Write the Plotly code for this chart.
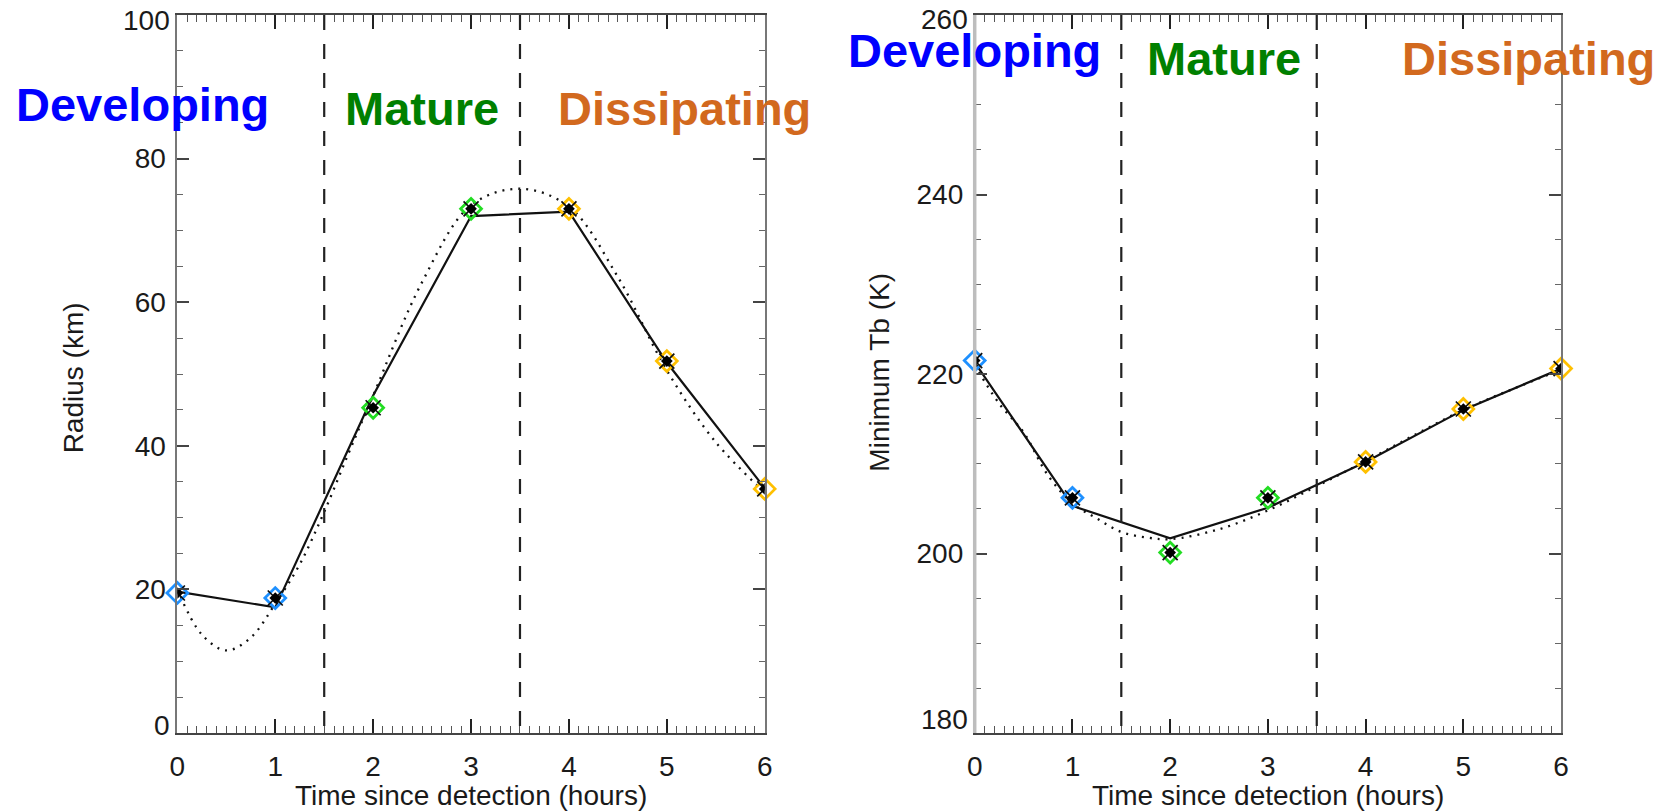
import plotly.graph_objects as go

# ---------------- data ----------------
hours = [0, 1, 2, 3, 4, 5, 6]

radius_obs = [19.5, 18.8, 45.3, 73.0, 73.0, 51.8, 34.0]
radius_line = [19.7, 17.5, 47.0, 72.0, 72.6, 51.6, 34.1]
fit_hours = [0, 0.25, 0.5, 0.75, 1, 1.25, 1.5, 1.75, 2, 2.5, 3, 3.5, 4, 4.5, 5, 5.5, 6]
radius_fit = [20.0, 13.7, 11.5, 13.3, 18.0, 23.5, 30.8, 39.0, 47.0, 62.8, 73.5, 75.8,
              73.3, 63.5, 50.5, 40.5, 33.5]

tb_obs = [221.5, 206.2, 200.1, 206.2, 210.2, 216.1, 220.6]
tb_line = [221.3, 205.3, 201.7, 205.1, 210.2, 216.0, 220.6]
tb_fit = [221.0, 216.7, 213.5, 208.7, 205.6, 203.9, 202.4, 201.8, 201.6, 202.7, 204.8,
          207.5, 210.3, 213.2, 216.0, 218.3, 220.5]

phase_of_point = ["Developing", "Developing", "Mature", "Mature",
                  "Dissipating", "Dissipating", "Dissipating"]
phase_bounds = [1.5, 3.5]
phase_names = ["Developing", "Mature", "Dissipating"]

x_ticks = [0, 1, 2, 3, 4, 5, 6]
radius_ticks = [0, 20, 40, 60, 80, 100]
tb_ticks = [180, 200, 220, 240, 260]

# ---------------- styles ----------------
W, H = 1680, 811
L_X0, L_X1 = 171, 764
R_X0, R_X1 = 976, 1568
TOP, BOT = 15, 733

marker_colors = {"Developing": "#1E90FF", "Mature": "#22DD22", "Dissipating": "#FFC000"}
text_colors = {"Developing": "#0000FF", "Mature": "#008000", "Dissipating": "#D2691E"}
FONT = "Liberation Sans, Arial, Helvetica, sans-serif"
TICK_FONT = dict(family=FONT, size=28, color="#1a1a1a")


def px_x(px):
    return px / W


def px_y(py):
    return (BOT - py) / (BOT - TOP)


fig = go.Figure()

panels = [
    ("x", "y", radius_obs, radius_line, radius_fit),
    ("x2", "y2", tb_obs, tb_line, tb_fit),
]
pt_colors = [marker_colors[p] for p in phase_of_point]

for xa, ya, obs, line, fit in panels:
    fig.add_trace(go.Scatter(
        x=fit_hours, y=fit, xaxis=xa, yaxis=ya, mode="lines",
        line=dict(color="#111111", width=2.3, dash="2px,6px", shape="spline", smoothing=1.0),
        hoverinfo="skip", showlegend=False))
    fig.add_trace(go.Scatter(
        x=hours, y=line, xaxis=xa, yaxis=ya, mode="lines",
        line=dict(color="#111111", width=2.2),
        showlegend=False))
    fig.add_trace(go.Scatter(
        x=hours, y=obs, xaxis=xa, yaxis=ya, mode="markers", cliponaxis=False,
        marker=dict(symbol="diamond-open", size=16, color=pt_colors,
                    line=dict(width=2.8, color=pt_colors)),
        showlegend=False))
    fig.add_trace(go.Scatter(
        x=hours, y=obs, xaxis=xa, yaxis=ya, mode="markers", cliponaxis=True,
        marker=dict(symbol="x-thin", size=15, color="#111111",
                    line=dict(width=1.7, color="#111111")),
        showlegend=False))
    fig.add_trace(go.Scatter(
        x=hours, y=obs, xaxis=xa, yaxis=ya, mode="markers", cliponaxis=True,
        marker=dict(symbol="diamond", size=9, color="#000000"),
        showlegend=False))

    for b in phase_bounds:
        fig.add_shape(type="line", xref=xa, yref=ya + " domain", x0=b, x1=b, y0=1, y1=0,
                      line=dict(color="#222222", width=2.2, dash="15px,14px"))

common_x = dict(
    range=[0, 6], tickvals=x_ticks, ticks="inside", ticklen=14, tickwidth=1.5,
    tickcolor="#222222", showline=True, linecolor="#444444", linewidth=1.6,
    mirror="ticks", showgrid=False, zeroline=False,
    tickfont=TICK_FONT,
    minor=dict(dtick=0.1, ticks="inside", ticklen=7, tickwidth=1, tickcolor="#555555"),
    ticklabelstandoff=8, ticklabeloverflow="allow",
)
common_y = dict(
    ticks="inside", ticklen=12, tickwidth=1.5, tickcolor="#444444",
    showline=True, linecolor="#777777", linewidth=1.8, mirror="ticks",
    showgrid=False, zeroline=False,
    tickfont=TICK_FONT,
    minor=dict(dtick=5, ticks="inside", ticklen=6, tickwidth=1, tickcolor="#666666"),
    ticklabelstandoff=4, ticklabeloverflow="allow",
)

# inner tick labels through the axis; the end labels are nudged inward (IDL style)
fig.update_layout(
    width=W, height=H,
    margin=dict(l=0, r=0, t=TOP, b=H - BOT, pad=0),
    paper_bgcolor="white", plot_bgcolor="white",
    showlegend=False,
    xaxis=dict(domain=[px_x(L_X0), px_x(L_X1)], anchor="y", **common_x),
    xaxis2=dict(domain=[px_x(R_X0), px_x(R_X1)], anchor="y2", **common_x),
    yaxis=dict(domain=[0, 1], anchor="x", range=[0, 100], tickvals=radius_ticks,
               ticktext=["" if v in (radius_ticks[0], radius_ticks[-1]) else str(v)
                         for v in radius_ticks], **common_y),
    yaxis2=dict(domain=[0, 1], anchor="x2", range=[180, 260], tickvals=tb_ticks,
                ticktext=["" if v in (tb_ticks[0], tb_ticks[-1]) else str(v)
                          for v in tb_ticks], **common_y),
)

end_labels = [
    (L_X0, radius_ticks[0], 725), (L_X0, radius_ticks[-1], 20),
    (R_X0, tb_ticks[0], 719), (R_X0, tb_ticks[-1], 19),
]
for ax_px, val, py in end_labels:
    fig.add_annotation(text=str(val), xref="paper", yref="paper",
                       x=px_x(ax_px - 5), y=px_y(py), showarrow=False, font=TICK_FONT,
                       xanchor="right", yanchor="middle")

# light grey thick left axis of right panel
fig.add_shape(type="line", xref="x2 domain", yref="y2 domain", x0=0, x1=0, y0=0, y1=1,
              line=dict(color="#bdbdbd", width=3.5), layer="above")

# axis titles
title_font = dict(family=FONT, size=28, color="#1a1a1a")
fig.add_annotation(text="Radius (km)", xref="paper", yref="paper", x=px_x(66), y=px_y(378),
                   textangle=-90, showarrow=False, font=title_font,
                   xanchor="center", yanchor="middle")
fig.add_annotation(text="Minimum Tb (K)", xref="paper", yref="paper", x=px_x(879), y=px_y(372),
                   textangle=-90, showarrow=False, font=title_font,
                   xanchor="center", yanchor="middle")
for x0, x1 in [(L_X0, L_X1), (R_X0, R_X1)]:
    fig.add_annotation(text="Time since detection (hours)", xref="paper", yref="paper",
                       x=px_x((x0 + x1) / 2), y=px_y(795), showarrow=False, font=title_font,
                       xanchor="center", yanchor="middle")

# phase labels
phase_label_pos = [
    ("Developing", 6, 104), ("Mature", 338, 108), ("Dissipating", 553, 108),
    ("Developing", 846, 50), ("Mature", 1148, 59), ("Dissipating", 1405, 59),
]
for name, px, py in phase_label_pos:
    fig.add_annotation(text="<b>%s</b>" % name, xref="paper", yref="paper",
                       x=px_x(px), y=px_y(py), showarrow=False,
                       font=dict(family=FONT, size=47, color=text_colors[name]),
                       xanchor="left", yanchor="middle")

fig.write_html("out.html")
